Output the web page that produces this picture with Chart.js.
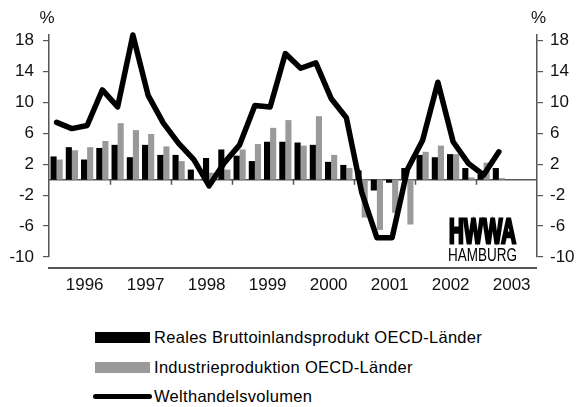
<!DOCTYPE html>
<html>
<head>
<meta charset="utf-8">
<script src="https://cdn.jsdelivr.net/npm/chart.js@4/dist/chart.umd.min.js"></script>
<style>
  body { margin: 0; background: #fff; font-family: "Liberation Sans", Arial, sans-serif; }
  #wrap { position: relative; width: 576px; height: 407px; }
  #chartBox { position: absolute; left: 0; top: 0; width: 576px; height: 300px; }
  .item { position: absolute; left: 0; height: 20px; font-size: 16.5px; letter-spacing: 0.3px; color: #000; white-space: nowrap; }
  .item span.txt { position: absolute; left: 154px; top: 0; line-height: 20px; }
  .item span.sw { position: absolute; }
</style>
</head>
<body>
<div id="wrap">
  <div id="chartBox"><canvas id="myChart"></canvas></div>
  <div id="legend"></div>
</div>
<script>
// years on the axis, data is quarterly (1996 Q1 - 2003 Q2)
const years = ["1996", "1997", "1998", "1999", "2000", "2001", "2002", "2003"];
const quarters = [];
years.forEach(y => { for (let q = 1; q <= 4; q++) quarters.push(y + " Q" + q); });

const yTicks = [-10, -6, -2, 2, 6, 10, 14, 18];

const seriesNames = ["Reales Bruttoinlandsprodukt OECD-Länder", "Industrieproduktion OECD-Länder", "Welthandelsvolumen"];

// real GDP OECD (black bars)
const gdp = [3.0, 4.2, 2.6, 4.1, 4.5, 2.9, 4.5, 3.2,
             3.2, 1.3, 2.8, 3.9, 3.1, 2.4, 4.9, 4.9,
             4.8, 4.5, 2.3, 1.9, 1.2, -1.4, -0.4, 1.5,
             3.2, 2.9, 3.3, 1.5, 0.7, 1.5];
// industrial production OECD (grey bars)
const industry = [2.6, 3.8, 4.2, 5.0, 7.3, 6.4, 5.9, 4.3,
                  2.4, 0.1, 0.9, 1.3, 3.9, 4.6, 6.7, 7.7,
                  4.4, 8.2, 3.2, 1.5, -4.9, -6.5, -4.3, -5.8,
                  3.6, 4.4, 3.3, 0.3, 2.2, 0.2];
// world trade volume (line)
const trade = [7.4, 6.6, 7.0, 11.6, 9.4, 18.7, 10.9, 7.3,
               4.7, 2.6, -0.8, 2.2, 4.5, 9.6, 9.4, 16.3,
               14.4, 15.1, 10.5, 8.0, -1.6, -7.5, -7.5, 1.3,
               5.1, 12.6, 4.9, 2.1, 0.6, 3.6];

const colors = ["#000000", "#9a9a9a", "#000000"];
const axisCol = "#555";
const tickFont = { family: "'Liberation Sans', Arial, sans-serif", size: 17 };

// zero line, year ticks, bottom rule, % signs and HWWA logo
const decor = {
  id: "decor",
  beforeDatasetsDraw(chart) {
    const ctx = chart.ctx, a = chart.chartArea;
    const x = chart.scales.x, y = chart.scales.y;
    const y0 = y.getPixelForValue(0);
    const slot = x.getPixelForValue(1) - x.getPixelForValue(0);
    ctx.save();
    ctx.strokeStyle = axisCol;
    ctx.lineWidth = 1.5;
    ctx.beginPath();
    ctx.moveTo(a.left, y0);
    ctx.lineTo(a.right, y0);
    for (let k = 1; k < years.length; k++) {
      const xp = Math.round(x.getPixelForValue(k * 4) - slot / 2) + 0.5;
      ctx.moveTo(xp, y0);
      ctx.lineTo(xp, y0 + 5);
    }
    ctx.stroke();
    ctx.restore();
  },
  afterDraw(chart) {
    const ctx = chart.ctx, a = chart.chartArea;
    ctx.save();
    // bottom rule under the plot
    ctx.strokeStyle = axisCol;
    ctx.lineWidth = 2;
    ctx.beginPath();
    ctx.moveTo(a.left - 1, a.bottom + 11);
    ctx.lineTo(a.right, a.bottom + 11);
    ctx.stroke();

    ctx.fillStyle = "#111";
    ctx.font = "17px 'Liberation Sans', Arial, sans-serif";
    ctx.textAlign = "center";
    ctx.textBaseline = "middle";
    ctx.fillText("%", 47, 18);
    ctx.fillText("%", 538.5, 18);

    // logo
    ctx.fillStyle = "#000";
    ctx.strokeStyle = "#000";
    ctx.textAlign = "left";
    ctx.textBaseline = "alphabetic";
    ctx.font = "bold 35px 'Liberation Sans', Arial, sans-serif";
    let w = ctx.measureText("HWWA").width;
    ctx.save();
    ctx.translate(449, 243);
    ctx.scale(67 / w, 1);
    ctx.lineWidth = 3;
    ctx.fillText("HWWA", 0, 0);
    ctx.strokeText("HWWA", 0, 0);
    ctx.restore();
    ctx.font = "18.5px 'Liberation Sans', Arial, sans-serif";
    w = ctx.measureText("HAMBURG").width;
    ctx.save();
    ctx.translate(448, 260.5);
    ctx.scale(69 / w, 1);
    ctx.fillText("HAMBURG", 0, 0);
    ctx.restore();
    ctx.restore();
  }
};

const yAxis = (pos, width, pad) => ({
  position: pos,
  min: -10,
  max: 18.7,
  afterBuildTicks: s => { s.ticks = yTicks.map(v => ({ value: v })); },
  afterFit: s => { s.width = width; },
  grid: { drawOnChartArea: false, tickLength: 6, color: axisCol, lineWidth: 1.2 },
  border: { color: axisCol, width: 1.5 },
  ticks: { padding: pad, color: "#111", font: tickFont }
});

const chart = new Chart("myChart", {
  data: {
    labels: quarters,
    datasets: [
      { type: "line", label: seriesNames[2], data: trade, borderColor: colors[2], borderWidth: 5.5,
        pointRadius: 0, tension: 0, borderJoinStyle: "round", borderCapStyle: "round", clip: false, order: 0 },
      { type: "bar", label: seriesNames[0], data: gdp, backgroundColor: colors[0], order: 1,
        categoryPercentage: 0.8, barPercentage: 1 },
      { type: "bar", label: seriesNames[1], data: industry, backgroundColor: colors[1], order: 1,
        categoryPercentage: 0.8, barPercentage: 1 }
    ]
  },
  options: {
    responsive: true,
    maintainAspectRatio: false,
    animation: false,
    layout: { padding: { top: 35, left: 0, right: 0, bottom: 0 } },
    plugins: { legend: { display: false }, tooltip: { enabled: false } },
    scales: {
      x: {
        type: "category",
        offset: true,
        grid: { display: false, drawTicks: false },
        border: { display: false },
        ticks: {
          autoSkip: false, maxRotation: 0, minRotation: 0, padding: 18, labelOffset: -2.5,
          color: "#111", font: tickFont,
          callback: (v, i) => (i % 4 === 2 ? years[Math.floor(i / 4)] : "")
        },
        afterFit: s => { s.height = 43; }
      },
      y: yAxis("left", 49, 9),
      y2: yAxis("right", 39, 7)
    }
  },
  plugins: [decor]
});

// legend below the chart
const legendRows = [
  { ds: 1, top: 327, sw: "left:95px;top:5px;width:55px;height:11px;" },
  { ds: 2, top: 357, sw: "left:95px;top:5px;width:55px;height:11px;" },
  { ds: 0, top: 386, sw: "left:93px;top:8px;width:59px;height:5px;border-radius:3px;" }
];
const legendBox = document.getElementById("legend");
legendRows.forEach(r => {
  const d = chart.data.datasets[r.ds];
  const col = d.type === "line" ? d.borderColor : d.backgroundColor;
  const div = document.createElement("div");
  div.className = "item";
  div.style.top = r.top + "px";
  div.innerHTML = "<span class='sw' style='" + r.sw + "background:" + col + "'></span><span class='txt'>" + d.label + "</span>";
  legendBox.appendChild(div);
});
</script>
</body>
</html>
